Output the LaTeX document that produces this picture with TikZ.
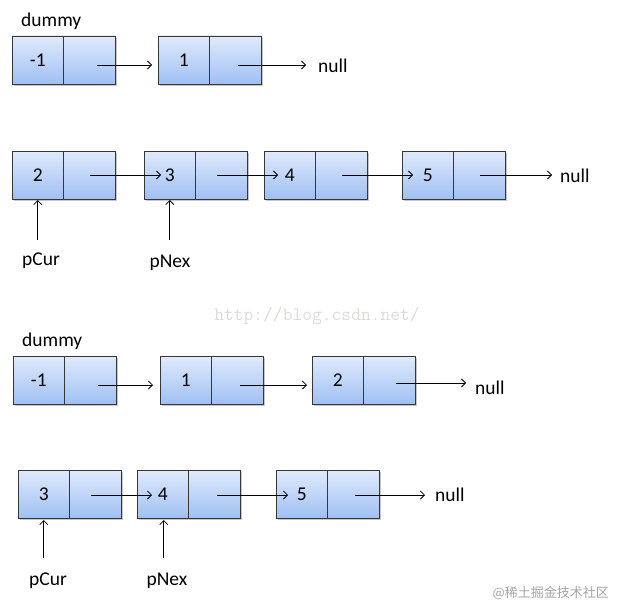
\documentclass[tikz,border=0pt]{standalone}
\usepackage{fontspec}
\setmainfont{Carlito}
\newfontfamily\cjkfont{Noto Sans CJK SC}
\usetikzlibrary{arrows.meta}
\definecolor{celltop}{RGB}{224,234,252}
\definecolor{cellbot}{RGB}{160,192,243}
\definecolor{cellline}{RGB}{55,55,55}
\definecolor{wmgray}{RGB}{222,219,214}
\definecolor{cjkgray}{RGB}{165,165,165}
\tikzset{
 cell/.style={draw=cellline, line width=0.9pt, top color=celltop, bottom color=cellbot,
   minimum width=51.5pt, minimum height=48pt, inner sep=0pt, outer sep=0pt,
   font=\fontsize{19.5}{21}\selectfont},
 link/.style={-{Straight Barb[length=4pt,width=8pt]}, line width=0.75pt},
 lbl/.style={inner sep=0pt, font=\fontsize{19.5}{21}\selectfont},
}
\newcommand\listnode[4]{%
 \fill[black,opacity=0.22] (#2+1.5,#3+1.8) rectangle ++(103,48);
 \node[cell] (#1l) at (#2+25.75,#3+24) {#4};
 \node[cell,anchor=west] (#1r) at (#1l.east) {};
}
\begin{document}
\begin{tikzpicture}[x=1pt,y=-1pt]
\useasboundingbox (0,0) rectangle (617,610);

% ---------- row 1 ----------
\node[lbl,anchor=base west] (dummy1) at (21,27) {dummy};
\listnode{a1}{12}{36}{-1}
\listnode{a2}{158}{36}{1}
\node[lbl,anchor=west] (null1) at (318,66) {null};
\draw[link] ([xshift=8pt,yshift=-5pt]a1r.center) -- ([xshift=-6pt,yshift=-5pt]a2l.west);
\draw[link] ([xshift=3pt,yshift=-5pt]a2r.center) -- ([xshift=-12pt,yshift=1pt]null1.west);

% ---------- row 2 ----------
\listnode{b2}{12}{151}{2}
\listnode{b3}{144}{151}{3}
\listnode{b4}{264}{151}{4}
\listnode{b5}{402}{151}{5}
\node[lbl,anchor=west] (null2) at (560,176) {null};
\draw[link] ([xshift=1pt]b2r.center) -- ([xshift=17pt]b3l.west);
\draw[link] ([xshift=-4pt]b3r.center) -- ([xshift=14pt]b4l.west);
\draw[link] ([xshift=1pt]b4r.center) -- ([xshift=11pt]b5l.west);
\draw[link] ([xshift=1pt]b5r.center) -- ([xshift=-8pt,yshift=1pt]null2.west);
\node[lbl,anchor=base] (pcur1) at (41,265) {pCur};
\node[lbl,anchor=base] (pnex1) at (170,267) {pNex};
\draw[link] ([yshift=-41pt]b2l.south) -- ([yshift=-1pt]b2l.south);
\draw[link] ([yshift=-41pt]b3l.south) -- ([yshift=-1pt]b3l.south);

% ---------- watermark ----------
\node[inner sep=0pt, text=wmgray, font=\ttfamily\fontsize{19}{20}\selectfont] (wm) at (317,316) {http://blog.csdn.net/};

% ---------- row 3 ----------
\node[lbl,anchor=base west] (dummy2) at (22,346) {dummy};
\listnode{c1}{13}{356}{-1}
\listnode{c2}{160}{356}{1}
\listnode{c3}{312}{356}{2}
\node[lbl,anchor=west] (null3) at (475,388) {null};
\draw[link] ([xshift=8pt,yshift=-5pt]c1r.center) -- ([xshift=-7pt,yshift=-5pt]c2l.west);
\draw[link] ([xshift=3pt,yshift=-5pt]c2r.center) -- ([xshift=-5pt,yshift=-5pt]c3l.west);
\draw[link] ([xshift=7pt,yshift=-3pt]c3r.center) -- ([xshift=-9pt,yshift=5pt]null3.west);

% ---------- row 4 ----------
\listnode{d3}{18}{470}{3}
\listnode{d4}{137}{470}{4}
\listnode{d5}{276}{470}{5}
\node[lbl,anchor=west] (null4) at (435,495) {null};
\draw[link] ([xshift=-4pt,yshift=-1pt]d3r.center) -- ([xshift=15pt,yshift=-1pt]d4l.west);
\draw[link] ([xshift=3pt,yshift=-1pt]d4r.center) -- ([xshift=12pt,yshift=-1pt]d5l.west);
\draw[link] ([xshift=2pt,yshift=-1pt]d5r.center) -- ([xshift=-10pt]null4.west);
\node[lbl,anchor=base] (pcur2) at (48,585) {pCur};
\node[lbl,anchor=base] (pnex2) at (167,585) {pNex};
\draw[link] ([yshift=-40pt]d3l.south) -- ([yshift=-2pt]d3l.south);
\draw[link] ([xshift=1pt,yshift=-40pt]d4l.south) -- ([xshift=1pt,yshift=-2pt]d4l.south);

% ---------- bottom watermark ----------
\node[anchor=east, inner sep=0pt, text=cjkgray, font=\cjkfont\fontsize{13}{14}\selectfont] (cjk) at (609,593) {@稀土掘金技术社区};
\end{tikzpicture}
\end{document}
